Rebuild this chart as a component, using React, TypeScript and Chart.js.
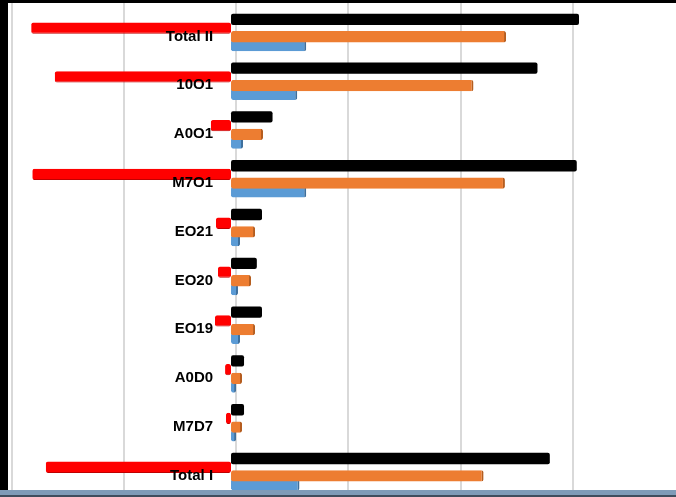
import React, { useEffect, useRef } from "react";
import { Chart, registerables } from "chart.js";

Chart.register(...registerables);

const categories = ["Total II", "10O1", "A0O1", "M7O1", "EO21", "EO20", "EO19", "A0D0", "M7D7", "Total I"];
const seriesBlack = [3.1, 2.73, 0.37, 3.08, 0.276, 0.23, 0.276, 0.116, 0.116, 2.84];
const seriesRed = [-1.78, -1.57, -0.18, -1.77, -0.134, -0.116, -0.143, -0.053, -0.045, -1.65];
const seriesOrange = [2.45, 2.16, 0.285, 2.44, 0.214, 0.178, 0.214, 0.098, 0.098, 2.25];
const seriesBlue = [0.67, 0.59, 0.107, 0.67, 0.08, 0.062, 0.08, 0.045, 0.045, 0.61];
const gridValues = [-1.955, -0.955, 0.045, 1.045, 2.045, 3.045];

const X_MIN = -1.951;
const X_MAX = 3.964;
const LABEL_X = -0.16;

const labelPlugin = {
  id: "categoryLabels",
  afterDatasetsDraw(chart: any) {
    const { ctx } = chart;
    const ys = chart.scales.y;
    const xr = chart.scales.x.getPixelForValue(LABEL_X);
    ctx.save();
    ctx.font = "bold 15px 'Liberation Sans', Arial, sans-serif";
    ctx.textAlign = "right";
    ctx.textBaseline = "middle";
    ctx.fillStyle = "#000000";
    (chart.data.labels as string[]).forEach((l, i) => {
      ctx.fillText(l, xr, ys.getPixelForValue(i) + 4);
    });
    ctx.restore();
  },
};

const topGridPlugin = {
  id: "topGrid",
  beforeDatasetsDraw(chart: any) {
    const { ctx, chartArea } = chart;
    const xs = chart.scales.x;
    ctx.save();
    ctx.strokeStyle = "#d9d9d9";
    ctx.lineWidth = 2;
    gridValues.forEach((v) => {
      const px = Math.round(xs.getPixelForValue(v));
      ctx.beginPath();
      ctx.moveTo(px, 0);
      ctx.lineTo(px, chartArea.top);
      ctx.stroke();
    });
    ctx.restore();
  },
};

export default function App() {
  const ref = useRef<HTMLCanvasElement | null>(null);

  useEffect(() => {
    document.body.style.margin = "0";
    if (!ref.current) return;
    const mk = (label: string, data: number[], bg: string, edge: string, bw: any) => ({
      label,
      data,
      backgroundColor: bg,
      borderColor: edge,
      borderWidth: bw,
      borderSkipped: false as const,
      borderRadius: 2,
      categoryPercentage: 0.714,
      barPercentage: 1.3,
    });
    const chart = new Chart(ref.current, {
      type: "bar",
      data: {
        labels: categories,
        datasets: [
          mk("Series 1", seriesBlack, "#000000", "#000000", 0),
          mk("Series 2", seriesRed, "#ff0000", "#c00000", { top: 0, right: 0, bottom: 1, left: 0 }),
          mk("Series 3", seriesOrange, "#ed7d31", "#b55d1f", { top: 0, right: 2, bottom: 0, left: 0 }),
          mk("Series 4", seriesBlue, "#5b9bd5", "#3e6f9c", { top: 0, right: 2, bottom: 0, left: 0 }),
        ],
      },
      options: {
        indexAxis: "y",
        animation: false,
        responsive: false,
        maintainAspectRatio: false,
        layout: { padding: { left: 12, top: 8, right: 0, bottom: 1 } },
        plugins: { legend: { display: false }, tooltip: { enabled: false } },
        scales: {
          x: {
            type: "linear",
            min: X_MIN,
            max: X_MAX,
            afterBuildTicks: (scale: any) => {
              scale.ticks = gridValues.map((v) => ({ value: v }));
            },
            ticks: { display: false },
            grid: { color: "#d9d9d9", lineWidth: 2, drawTicks: false },
            border: { display: false },
          },
          y: {
            type: "category",
            display: false,
          },
        },
      },
      plugins: [topGridPlugin, labelPlugin],
    });
    return () => chart.destroy();
  }, []);

  return (
    <div style={{ position: "relative", width: 676, height: 497, background: "#ffffff", overflow: "hidden" }}>
      <canvas ref={ref} width={676} height={497} style={{ position: "absolute", left: 0, top: 0, width: 676, height: 497 }} />
      <div style={{ position: "absolute", left: 0, top: 0, width: 8, height: 490, background: "#000000" }} />
      <div style={{ position: "absolute", left: 0, top: 0, width: 676, height: 3, background: "#000000" }} />
      <div style={{ position: "absolute", left: 0, top: 490, width: 676, height: 5, background: "#7f9bb8" }} />
      <div style={{ position: "absolute", left: 0, top: 495, width: 676, height: 2, background: "#3f4d5e" }} />
    </div>
  );
}
